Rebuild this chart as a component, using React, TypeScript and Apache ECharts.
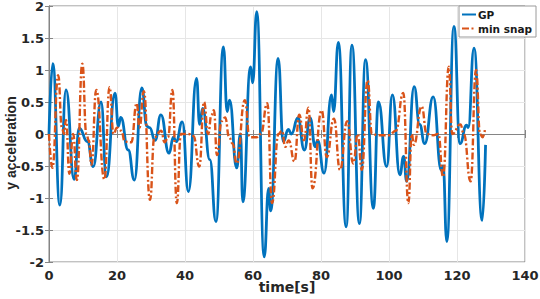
import React, { useEffect, useRef } from "react";
import * as echarts from "echarts";

// GP series: time [s] and y acceleration, read at peaks / troughs / shoulders
const gpTime = [
  0, 1.1, 3.2, 5.0, 7.4, 8.9, 11.3, 13.0, 15.3, 16.9, 19.4, 20.4, 21.1, 23.3, 25.1, 27.3, 28.8, 29.6,
  31.2, 32.9, 35.3, 36.6, 37.4, 39.2, 41.0, 43.4, 44.3, 45.2, 47.3, 49.1, 51.3, 52.4, 53.1, 55.2,
  56.3, 57.0, 59.3, 59.9, 61.1, 63.3, 64.6, 65.2, 67.4, 68.9, 70.4, 71.3, 73.2, 75.1, 76.8, 78.3,
  79.0, 80.9, 83.1, 83.7, 85.1, 87.4, 89.1, 91.3, 93.1, 95.4, 96.9, 99.3, 101.0, 103.2, 104.3,
  105.2, 107.4, 109.0, 110.5, 113.0, 115.4, 115.9, 117.0, 119.1, 120.9, 122.8, 123.3, 125.0, 127.4,
  128.4,
];
const gpValue = [
  0, 1.1, -1.11, 0.69, -0.71, 0.09, -0.12, -0.51, 0.5, -0.67, 0.64, 0.12, 0.26, -0.25, -0.72, 0.72,
  0.12, 0.1, -0.1, 0.3, -0.3, -0.05, -0.12, 0.19, -0.9, 0.87, 0.15, 0.4, -0.4, -1.37, 1.36, 0.35,
  0.53, -0.53, 0.0, -1.06, 1.05, 0.8, 1.91, -1.92, -0.85, -1.2, 1.18, -0.12, 0.07, 0.0, 0.25, -0.25,
  0.25, -0.2, -0.1, -0.61, 0.61, 0.35, 1.43, -1.45, 1.39, -1.4, 1.16, -1.16, 0.5, -0.51, 0.61,
  -0.64, -0.35, -0.74, 0.74, 0.15, -0.15, 0.58, -0.57, -0.5, -1.68, 1.68, -0.15, 0.14, 0.1, 1.34,
  -1.35, -0.17,
];

// min snap series
const snapTime = [
  0, 1.0, 2.7, 3.8, 4.4, 5.0, 6.0, 7.1, 8.2, 9.8, 11.0, 11.7, 12.5, 13.9, 16.3, 17.8, 19.0, 20.0,
  21.3, 22.3, 24.2, 25.8, 26.6, 27.9, 29.7, 31.0, 33.0, 34.0, 35.0, 36.3, 37.6, 38.8, 41.0, 42.5,
  44.2, 45.6, 46.8, 47.8, 48.5, 49.4, 50.8, 51.8, 53.0, 54.0, 55.2, 57.6, 59.0, 61.0, 62.3, 64.2,
  65.6, 67.5, 68.5, 69.5, 70.5, 72.2, 73.6, 75.0, 76.3, 77.5, 80.2, 81.7, 83.8, 85.6, 87.7, 89.5,
  90.8, 92.0, 93.7, 95.0, 97.0, 100.0, 102.0, 104.2, 105.7, 106.7, 107.3, 109.6, 111.1, 113.0,
  114.5, 115.9, 117.6, 118.6, 121.0, 122.0, 124.0, 125.6, 126.8, 127.5, 128.2,
];
const snapValue = [
  0, -0.53, 0.92, 0.1, 0.0, 0.22, -0.62, 0.0, -0.72, 1.1, 0.0, -0.1, -0.48, 0.69, -0.71, 0.73, 0.0,
  0.1, 0.05, -0.12, -0.13, 0.48, 0.1, 0.67, -1.03, -0.05, 0.05, -0.13, -0.05, 0.69, -1.08, 0.0, 0.0,
  -0.03, -0.51, 0.5, 0.0, 0.3, 0.37, -0.33, 0.2, 0.26, -0.05, -0.15, -0.46, 0.53, -0.05, -0.05, 0.0,
  0.48, -1.08, 0.0, 0.05, -0.2, -0.1, -0.43, 0.3, -0.1, 0.41, -0.85, 0.37, -0.36, 0.24, -0.56, 0.2,
  -0.46, 0.0, -0.56, 0.84, 0.0, -0.02, -0.02, 0.05, 0.64, -1.08, 0.0, -0.17, 0.43, 0.0, -0.02, 0.0,
  -0.67, 1.05, 0.0, 0.15, 0.0, -0.74, 1.0, 0.0, -0.05, 0.06,
];

const seriesNames = ["GP", "min snap"];
const xRange = { min: 0, max: 140, interval: 20 };
const yRange = { min: -2, max: 2, interval: 0.5 };

const zip = (t: number[], v: number[]) => t.map((x, i) => [x, v[i]]);

export default function App() {
  const ref = useRef<HTMLDivElement>(null);
  useEffect(() => {
    const chart = echarts.init(ref.current!, null, { renderer: "svg" });
    const tickFont = { fontFamily: "DejaVu Sans", fontWeight: "bold" as const, fontSize: 13, color: "#262626" };
    const boxColor = "#858585";
    chart.setOption({
      animation: false,
      backgroundColor: "#ffffff",
      grid: {
        left: 49, right: 15, top: 6, bottom: 37,
        outerBoundsMode: "none",
        containLabel: false,
        show: true, borderColor: boxColor, borderWidth: 1,
      },
      legend: {
        orient: "vertical",
        right: 4,
        top: 6,
        padding: [3, 4, 3, 2],
        itemGap: 3,
        itemWidth: 14,
        itemHeight: 10,
        backgroundColor: "#ffffff",
        borderColor: "#9a9a9a",
        borderWidth: 1,
        borderRadius: 0,
        data: seriesNames,
        itemStyle: { color: "transparent", borderWidth: 0, opacity: 0 },
        textStyle: { fontFamily: "DejaVu Sans", fontWeight: "bold", fontSize: 10.5, color: "#1a1a1a", padding: [0, 0, 0, -3] },
      },
      xAxis: [
        {
          type: "value",
          ...xRange,
          name: "time[s]",
          nameLocation: "middle",
          nameGap: 18,
          nameMoveOverlap: false,
          nameTextStyle: { fontFamily: "DejaVu Sans", fontWeight: "bold", fontSize: 14, color: "#262626" },
          axisLine: { show: true, lineStyle: { color: boxColor } },
          axisTick: { show: true, inside: true, length: 4, lineStyle: { color: boxColor } },
          axisLabel: { ...tickFont, margin: 7 },
          splitLine: { show: true, lineStyle: { color: "#e6e6e6", width: 1 } },
        },
        {
          type: "value",
          position: "top",
          ...xRange,
          axisLine: { show: true, lineStyle: { color: boxColor } },
          axisTick: { show: true, inside: true, length: 4, lineStyle: { color: boxColor } },
          axisLabel: { show: false },
          splitLine: { show: false },
        },
      ],
      yAxis: [
        {
          type: "value",
          ...yRange,
          name: "y acceleration",
          nameLocation: "middle",
          nameGap: 31,
          nameMoveOverlap: false,
          nameTextStyle: {
            fontFamily: "Liberation Sans", fontWeight: "bold", fontSize: 14, color: "#262626",
            padding: [0, 18, 0, 0],
          },
          axisLine: { show: true, lineStyle: { color: boxColor } },
          axisTick: { show: true, inside: true, length: 4, lineStyle: { color: boxColor } },
          axisLabel: { ...tickFont, margin: 5 },
          splitLine: { show: true, lineStyle: { color: "#e6e6e6", width: 1 } },
        },
        {
          type: "value",
          position: "right",
          ...yRange,
          axisLine: { show: true, lineStyle: { color: boxColor } },
          axisTick: { show: true, inside: true, length: 4, lineStyle: { color: boxColor } },
          axisLabel: { show: false },
          splitLine: { show: false },
        },
      ],
      series: [
        {
          name: seriesNames[0],
          type: "line",
          data: zip(gpTime, gpValue),
          smooth: 0.5,
          smoothMonotone: "x",
          symbol: "none",
          lineStyle: { color: "#0072BD", width: 2.8 },
          itemStyle: { color: "#0072BD" },
          z: 2,
        },
        {
          name: seriesNames[1],
          type: "line",
          data: zip(snapTime, snapValue),
          smooth: 0.5,
          smoothMonotone: "x",
          symbol: "none",
          lineStyle: { color: "#D95319", width: 2.4, type: [7, 2.5, 2, 2.5] },
          itemStyle: { color: "#D95319" },
          z: 3,
        },
      ],
    });
    return () => chart.dispose();
  }, []);
  return <div ref={ref} style={{ position: "fixed", left: 0, top: 0, width: 540, height: 299 }} />;
}
